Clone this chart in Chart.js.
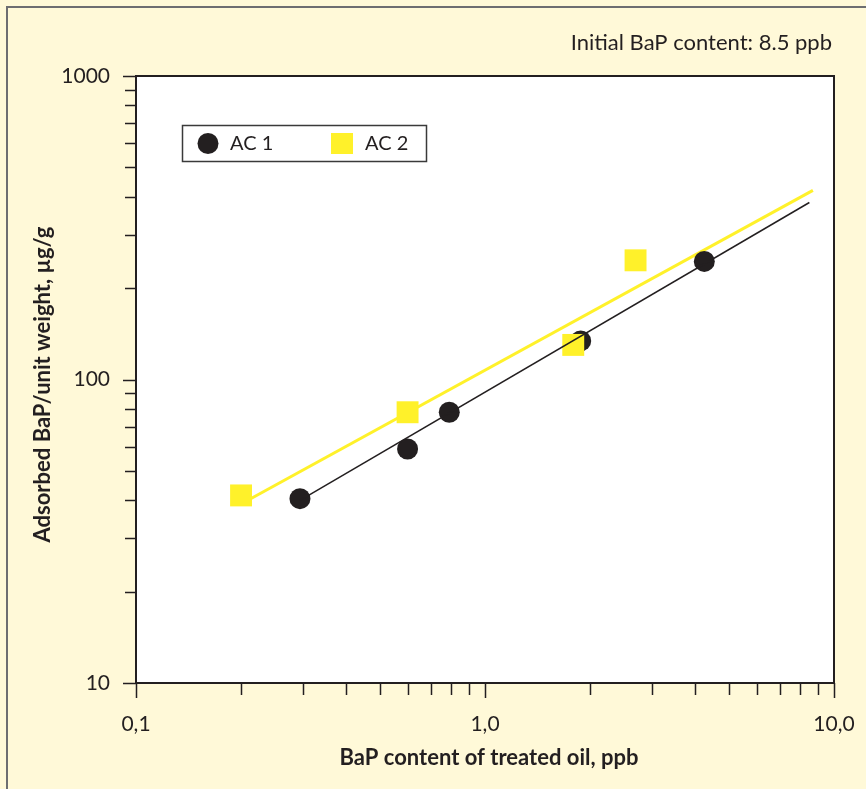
<!DOCTYPE html>
<html>
<head>
<meta charset="utf-8">
<script src="https://cdn.jsdelivr.net/npm/chart.js@4.4.1/dist/chart.umd.min.js"></script>
<style>
  html, body { margin: 0; padding: 0; background: #fff9d8; }
  canvas { display: block; }
</style>
</head>
<body>
<canvas id="adsorcion" width="866" height="789"></canvas>
<script>
// datos (escala log-log)
const ac1X = [0.295, 0.6, 0.79, 1.88, 4.25]
const ac1Y = [40.5, 59, 78, 134, 245]
const ac2X = [0.2, 0.6, 1.79, 2.7]
const ac2Y = [41.5, 78, 130, 247]
// rectas de ajuste (extremos)
const fit1X = [0.295, 8.5]
const fit1Y = [40, 383]
const fit2X = [0.2, 8.7]
const fit2Y = [38.9, 420]
// marcas de los ejes
const xTicks = [0.1, 1, 10]
const xTickLabels = ["0,1", "1,0", "10,0"]
const yTicks = [10, 100, 1000]
const yTickLabels = ["10", "100", "1000"]
const seriesNames = ["AC 1", "AC 2"]

const NEGRO = "#231f20"
const AMARILLO = "#fff12a"
const FONDO = "#fff9d8"
const FUENTE = "Lato, 'Open Sans', sans-serif"

const pares = (xs, ys) => xs.map((x, i) => ({ x: x, y: ys[i] }))

function menores(min, max) {
  // valores 2..9 de cada decada, para las marcas pequeñas
  var out = []
  for (var d = min; d < max; d *= 10) {
    for (var k = 2; k <= 9; k++) out.push(+(d * k).toPrecision(3))
  }
  return out
}

const decoracion = {
  id: "decoracion",
  beforeDraw(chart) {
    const ctx = chart.ctx
    const a = chart.chartArea
    ctx.save()
    ctx.fillStyle = FONDO
    ctx.fillRect(0, 0, chart.width, chart.height)
    // marco exterior
    ctx.strokeStyle = "#6d6e71"
    ctx.lineWidth = 2
    ctx.strokeRect(7, 7, chart.width + 20, chart.height + 20)
    ctx.fillStyle = "#ffffff"
    ctx.fillRect(a.left, a.top, a.right - a.left, a.bottom - a.top)
    ctx.restore()
  },
  afterDraw(chart) {
    const ctx = chart.ctx
    const a = chart.chartArea
    const sx = chart.scales.x
    const sy = chart.scales.y
    ctx.save()
    ctx.strokeStyle = NEGRO
    ctx.lineWidth = 2
    ctx.strokeRect(a.left, a.top, a.right - a.left, a.bottom - a.top)

    // marcas eje y
    ctx.lineWidth = 1.5
    ctx.beginPath()
    yTicks.forEach((v) => {
      const p = Math.round(sy.getPixelForValue(v)) + 0.5
      ctx.moveTo(a.left - 13, p)
      ctx.lineTo(a.left, p)
    })
    menores(10, 1000).forEach((v) => {
      const p = Math.round(sy.getPixelForValue(v)) + 0.5
      ctx.moveTo(a.left - 11, p)
      ctx.lineTo(a.left, p)
    })
    // marcas eje x
    xTicks.forEach((v) => {
      const p = Math.round(sx.getPixelForValue(v)) + 0.5
      ctx.moveTo(p, a.bottom)
      ctx.lineTo(p, a.bottom + 15)
    })
    menores(0.1, 10).forEach((v) => {
      const p = Math.round(sx.getPixelForValue(v)) + 0.5
      ctx.moveTo(p, a.bottom)
      ctx.lineTo(p, a.bottom + 12)
    })
    ctx.stroke()

    // titulos de ejes
    ctx.fillStyle = NEGRO
    ctx.font = "bold 22px " + FUENTE
    ctx.textAlign = "center"
    ctx.textBaseline = "middle"
    ctx.fillText("BaP content of treated oil, ppb", (a.left + a.right) / 2 + 4, 758)
    ctx.save()
    ctx.translate(43, (a.top + a.bottom) / 2 + 5)
    ctx.rotate(-Math.PI / 2)
    ctx.fillText("Adsorbed BaP/unit weight, \u00b5g/g", 0, 0)
    ctx.restore()

    // nota
    ctx.font = "22px " + FUENTE
    ctx.textAlign = "right"
    ctx.fillText("Initial BaP content: 8.5 ppb", 832, 43)

    // leyenda
    ctx.fillStyle = "#ffffff"
    ctx.fillRect(182.5, 125.5, 244, 36)
    ctx.strokeStyle = "#3a3a3a"
    ctx.lineWidth = 1.5
    ctx.strokeRect(182.5, 125.5, 244, 36)
    const ds = chart.data.datasets
    ctx.fillStyle = ds[0].backgroundColor
    ctx.beginPath()
    ctx.arc(208, 143.5, 10.5, 0, Math.PI * 2)
    ctx.fill()
    ctx.fillStyle = ds[1].backgroundColor
    ctx.fillRect(331, 133, 22, 21)
    ctx.fillStyle = NEGRO
    ctx.textAlign = "left"
    ctx.font = "20px " + FUENTE
    ctx.fillText(ds[0].label, 230, 144)
    ctx.fillText(ds[1].label, 365, 144)
    ctx.restore()
  },
}

var ctxAds = document.getElementById("adsorcion").getContext("2d")
var chartAds = new Chart(ctxAds, {
  type: "scatter",
  data: {
    datasets: [
      {
        label: seriesNames[0],
        data: pares(ac1X, ac1Y),
        backgroundColor: NEGRO,
        borderWidth: 0,
        pointStyle: "circle",
        pointRadius: 10.5,
        order: 2,
      },
      {
        label: seriesNames[1],
        data: pares(ac2X, ac2Y),
        backgroundColor: AMARILLO,
        borderWidth: 0,
        pointStyle: "rect",
        pointRadius: 15.5,
        order: 1,
      },
      {
        label: "fit AC 1",
        type: "line",
        data: pares(fit1X, fit1Y),
        borderColor: NEGRO,
        borderWidth: 1.5,
        pointRadius: 0,
        fill: false,
        order: 0,
      },
      {
        label: "fit AC 2",
        type: "line",
        data: pares(fit2X, fit2Y),
        borderColor: AMARILLO,
        borderWidth: 3,
        pointRadius: 0,
        fill: false,
        order: 3,
      },
    ],
  },
  options: {
    responsive: false,
    animation: false,
    layout: { padding: { top: 76, right: 32, left: 0, bottom: 0 } },
    plugins: {
      legend: { display: false },
      tooltip: { enabled: false },
    },
    scales: {
      x: {
        type: "logarithmic",
        min: 0.1,
        max: 10,
        grid: { display: false, drawTicks: false },
        border: { display: false },
        afterBuildTicks: (s) => { s.ticks = xTicks.map((v) => ({ value: v })) },
        afterFit: (s) => {
          s.height = 106
          s.paddingLeft = 0
          s.paddingRight = 0
        },
        ticks: {
          autoSkip: false,
          maxRotation: 0,
          padding: 29,
          color: NEGRO,
          font: { family: FUENTE, size: 21 },
          callback: (v) => xTickLabels[xTicks.indexOf(v)],
        },
      },
      y: {
        type: "logarithmic",
        min: 10,
        max: 1000,
        grid: { display: false, drawTicks: false },
        border: { display: false },
        afterBuildTicks: (s) => { s.ticks = yTicks.map((v) => ({ value: v })) },
        afterFit: (s) => {
          s.width = 136
          s.paddingTop = 0
          s.paddingBottom = 0
        },
        ticks: {
          autoSkip: false,
          padding: 26,
          color: NEGRO,
          font: { family: FUENTE, size: 21 },
          callback: (v) => yTickLabels[yTicks.indexOf(v)],
        },
      },
    },
  },
  plugins: [decoracion],
})
</script>
</body>
</html>
